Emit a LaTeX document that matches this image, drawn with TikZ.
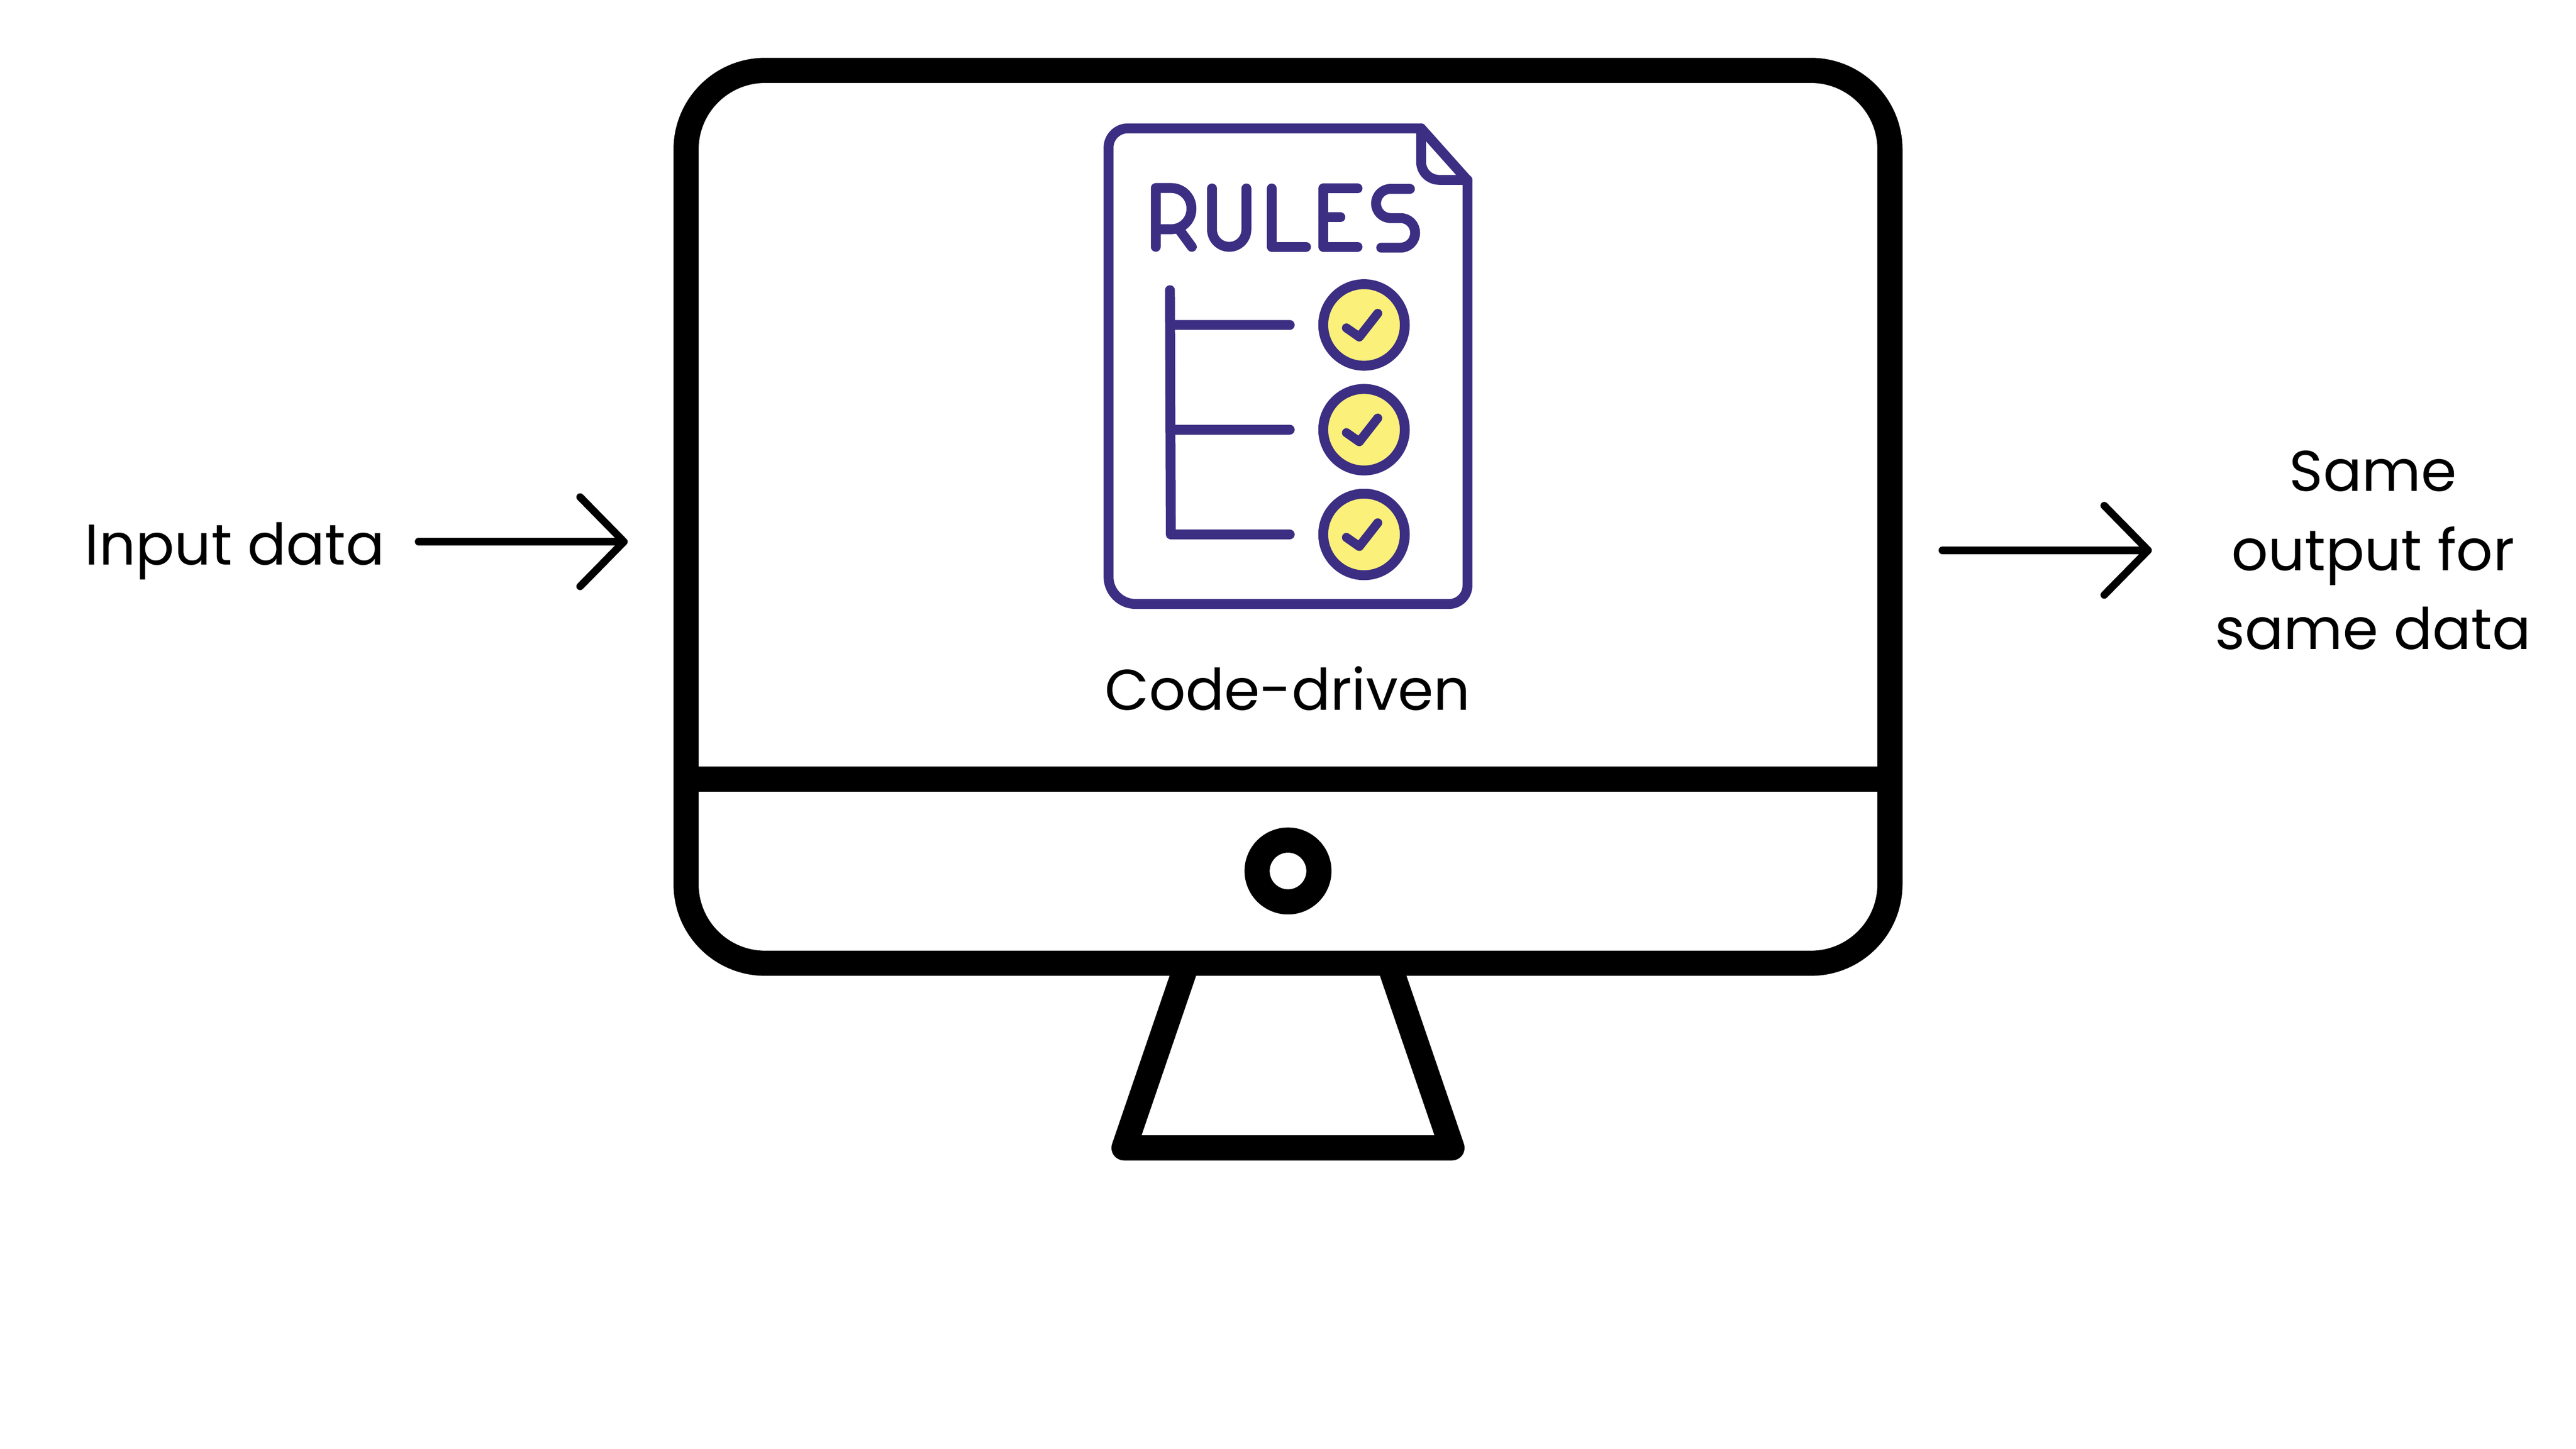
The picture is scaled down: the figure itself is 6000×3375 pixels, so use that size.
\documentclass[tikz,border=0pt]{standalone}
\usepackage{fontspec}
\setmainfont{Poppins}
\usetikzlibrary{arrows.meta}
\definecolor{docc}{RGB}{60,46,130}
\definecolor{circ}{RGB}{250,240,122}
\tikzset{%
    mon/.style={line width = 5.85mm, line join=round},
    doc/.style={line width = 2.3mm, color=docc, line cap=round, line join=round},
    tic/.style={line width = 2.1mm, color=docc, line cap=round, line join=round},
    ball/.style={line width = 2.3mm, draw=docc, fill=circ},
    flecha/.style={line width = 1.75mm, line cap=round, -{Straight Barb[round, length=10.2mm, width=20.8mm]}},
    txt/.style={inner sep=0pt, font=\fontsize{38}{52.4}\selectfont, align=center},
}
\begin{document}
\begin{tikzpicture}[x=0.01cm,y=-0.01cm]
    \useasboundingbox (0,0) rectangle (6000,3375);
    \draw [mon,rounded corners=18.4mm] (1598,164) rectangle (4402,2244);
    \draw [mon] (1598,1815)--(4402,1815);
    \draw [mon] (3000,2029) circle[radius=72];
    \draw [mon] (2765,2244)--(2618,2674)--(3382,2674)--(3235,2244);
    \draw [doc] (3418,420)--(3310,299)[rounded corners=4.5mm]--(2582,299)[rounded corners=6.3mm]--(2582,1407)[rounded corners=4.3mm]--(3418,1407)[sharp corners]--cycle;
    \draw [doc,rounded corners=4.2mm] (3310,299)--(3310,419)--(3418,419);
    \draw [doc] (2692,575)--(2692,438)[rounded corners=4.7mm]--(2775,438)--(2775,534)[sharp corners]--(2692,534);
    \draw [doc] (2746,534)--(2776,575);
    \draw [doc,rounded corners=4mm] (2823,439)--(2823,575)--(2903,575)--(2903,439);
    \draw [doc] (2962,439)--(2962,575)--(3042,575);
    \draw [doc] (3162,439)--(3082,439)--(3082,575)--(3162,575) (3082,506)--(3122,506);
    \draw [doc,rounded corners=3.4mm] (3284,440)--(3205,440)--(3205,508)--(3296,508)--(3296,577)--(3217,577);
    \draw [doc] (2725,676)--(2727,1245)--(3004,1245) (2726,757)--(3004,757) (2726,1001)--(3004,1001);
    \draw [ball] (3177,757) circle[radius=95];
    \draw [ball] (3177,1001) circle[radius=95];
    \draw [ball] (3177,1245) circle[radius=95];
    \draw [tic] (3136,764)--(3166,785)--(3209,730);
    \draw [tic] (3136,1008)--(3166,1029)--(3209,974);
    \draw [tic] (3136,1252)--(3166,1273)--(3209,1218);
    \node [txt,anchor=base] (lab) at (2999,1654) {Code-driven};
    \node [txt,anchor=base] (inp) at (547,1316) {Input data};
    \node [txt] (outp) at (5527,1282) {Same\\output for\\same data};
    \coordinate (ina) at (975,1262);
    \coordinate (inb) at (1462,1262);
    \coordinate (outa) at (4524,1282);
    \coordinate (outb) at (5012,1282);
    \draw [flecha] (ina)--(inb);
    \draw [flecha] (outa)--(outb);
\end{tikzpicture}
\end{document}
